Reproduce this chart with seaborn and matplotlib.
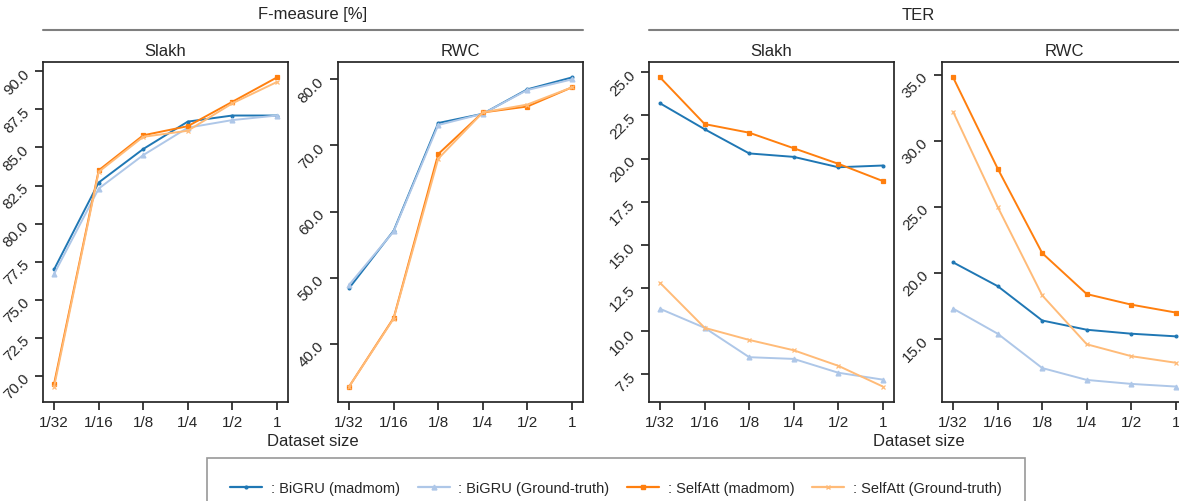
import pandas as pd
import seaborn as sns
import matplotlib.pyplot as plt
from matplotlib.lines import Line2D

# dataset sizes on the x axis
sizes = ['1/32', '1/16', '1/8', '1/4', '1/2', '1']
models = ['BiGRU (madmom)', 'BiGRU (Ground-truth)', 'SelfAtt (madmom)', 'SelfAtt (Ground-truth)']

# F-measure [%]
f_slakh_bigru_mm = [77.0, 82.7, 84.9, 86.7, 87.1, 87.1]
f_slakh_bigru_gt = [76.7, 82.3, 84.5, 86.3, 86.8, 87.1]
f_slakh_satt_mm = [69.5, 83.5, 85.8, 86.4, 88.0, 89.6]
f_slakh_satt_gt = [69.3, 83.4, 85.7, 86.1, 87.9, 89.3]

f_rwc_bigru_mm = [48.4, 57.1, 73.4, 74.8, 78.5, 80.3]
f_rwc_bigru_gt = [48.9, 57.0, 73.1, 74.8, 78.4, 80.0]
f_rwc_satt_mm = [33.5, 43.9, 68.7, 75.0, 75.9, 78.8]
f_rwc_satt_gt = [33.5, 43.8, 68.0, 75.0, 76.2, 78.8]

# TER
t_slakh_bigru_mm = [23.2, 21.7, 20.3, 20.1, 19.5, 19.6]
t_slakh_bigru_gt = [11.3, 10.2, 8.5, 8.4, 7.6, 7.2]
t_slakh_satt_mm = [24.7, 22.0, 21.5, 20.6, 19.7, 18.7]
t_slakh_satt_gt = [12.8, 10.2, 9.5, 8.9, 8.0, 6.8]

t_rwc_bigru_mm = [20.8, 19.0, 16.4, 15.7, 15.4, 15.2]
t_rwc_bigru_gt = [17.3, 15.4, 12.8, 11.9, 11.6, 11.4]
t_rwc_satt_mm = [34.8, 27.9, 21.5, 18.4, 17.6, 17.0]
t_rwc_satt_gt = [32.2, 25.0, 18.3, 14.6, 13.7, 13.2]

panels = [
    ('Slakh', [f_slakh_bigru_mm, f_slakh_bigru_gt, f_slakh_satt_mm, f_slakh_satt_gt]),
    ('RWC', [f_rwc_bigru_mm, f_rwc_bigru_gt, f_rwc_satt_mm, f_rwc_satt_gt]),
    ('Slakh', [t_slakh_bigru_mm, t_slakh_bigru_gt, t_slakh_satt_mm, t_slakh_satt_gt]),
    ('RWC', [t_rwc_bigru_mm, t_rwc_bigru_gt, t_rwc_satt_mm, t_rwc_satt_gt]),
]

colors = ['#1f77b4', '#aec7e8', '#ff7f0e', '#ffbb78']
markers = ['.', '^', 's', 'x']
msizes = [4, 3.5, 3, 3.5]

sns.set_theme(style='ticks')
plt.rcParams['font.family'] = ['Liberation Sans', 'DejaVu Sans']
plt.rcParams['text.color'] = '#262626'

W, H = 1179, 502
fig = plt.figure(figsize=(W / 100, H / 100), dpi=100)

lefts = [43, 338, 649, 942]
pw = 245
top, bottom = 63, 403
pos = list(range(len(sizes)))

for i, (name, series) in enumerate(panels):
    ax = fig.add_axes([lefts[i] / W, 1 - bottom / H, pw / W, (bottom - top) / H])
    for vals, c, mk, ms in zip(series, colors, markers, msizes):
        sns.lineplot(x=pos, y=vals, color=c, marker=mk, markersize=ms,
                     markeredgewidth=0.9, markeredgecolor=c, linewidth=1.4, ax=ax)
    ax.set_xticks(pos)
    ax.set_xticklabels(sizes)
    ax.yaxis.set_major_formatter(plt.FormatStrFormatter('%.1f'))
    ax.tick_params(axis='y', labelrotation=45, labelsize=11, pad=2)
    ax.tick_params(axis='x', labelsize=11)
    ax.set_title(name, fontsize=12, pad=5)

# group headers with a rule underneath
fig.text((43 + 583) / 2 / W, 1 - 15 / H, 'F-measure [%]', ha='center', va='center', fontsize=12)
fig.text((649 + 1188) / 2 / W, 1 - 15 / H, 'TER', ha='center', va='center', fontsize=12)
for x0, x1 in [(43, 583), (649, 1179)]:
    fig.add_artist(Line2D([x0 / W, x1 / W], [1 - 31 / H, 1 - 31 / H],
                          color='#7f7f7f', linewidth=1.5))

fig.text((43 + 583) / 2 / W, 1 - 442 / H, 'Dataset size', ha='center', va='center', fontsize=12)
fig.text((649 + 1188) / 2 / W, 1 - 442 / H, 'Dataset size', ha='center', va='center', fontsize=12)

handles = [Line2D([], [], color=c, marker=mk, markersize=ms, linewidth=1.6)
           for c, mk, ms in zip(colors, markers, msizes)]
labels = [': ' + m for m in models]
leg = fig.legend(handles, labels, loc='upper center', ncol=4,
                 bbox_to_anchor=(616 / W, 1 - 459 / H), fontsize=10.5,
                 frameon=True, fancybox=False, edgecolor='#7f7f7f',
                 handlelength=2.2, handletextpad=0.6, columnspacing=1.2,
                 borderpad=1.6, borderaxespad=0)
leg.get_frame().set_linewidth(1.2)

fig.savefig('out.png', dpi=100)
